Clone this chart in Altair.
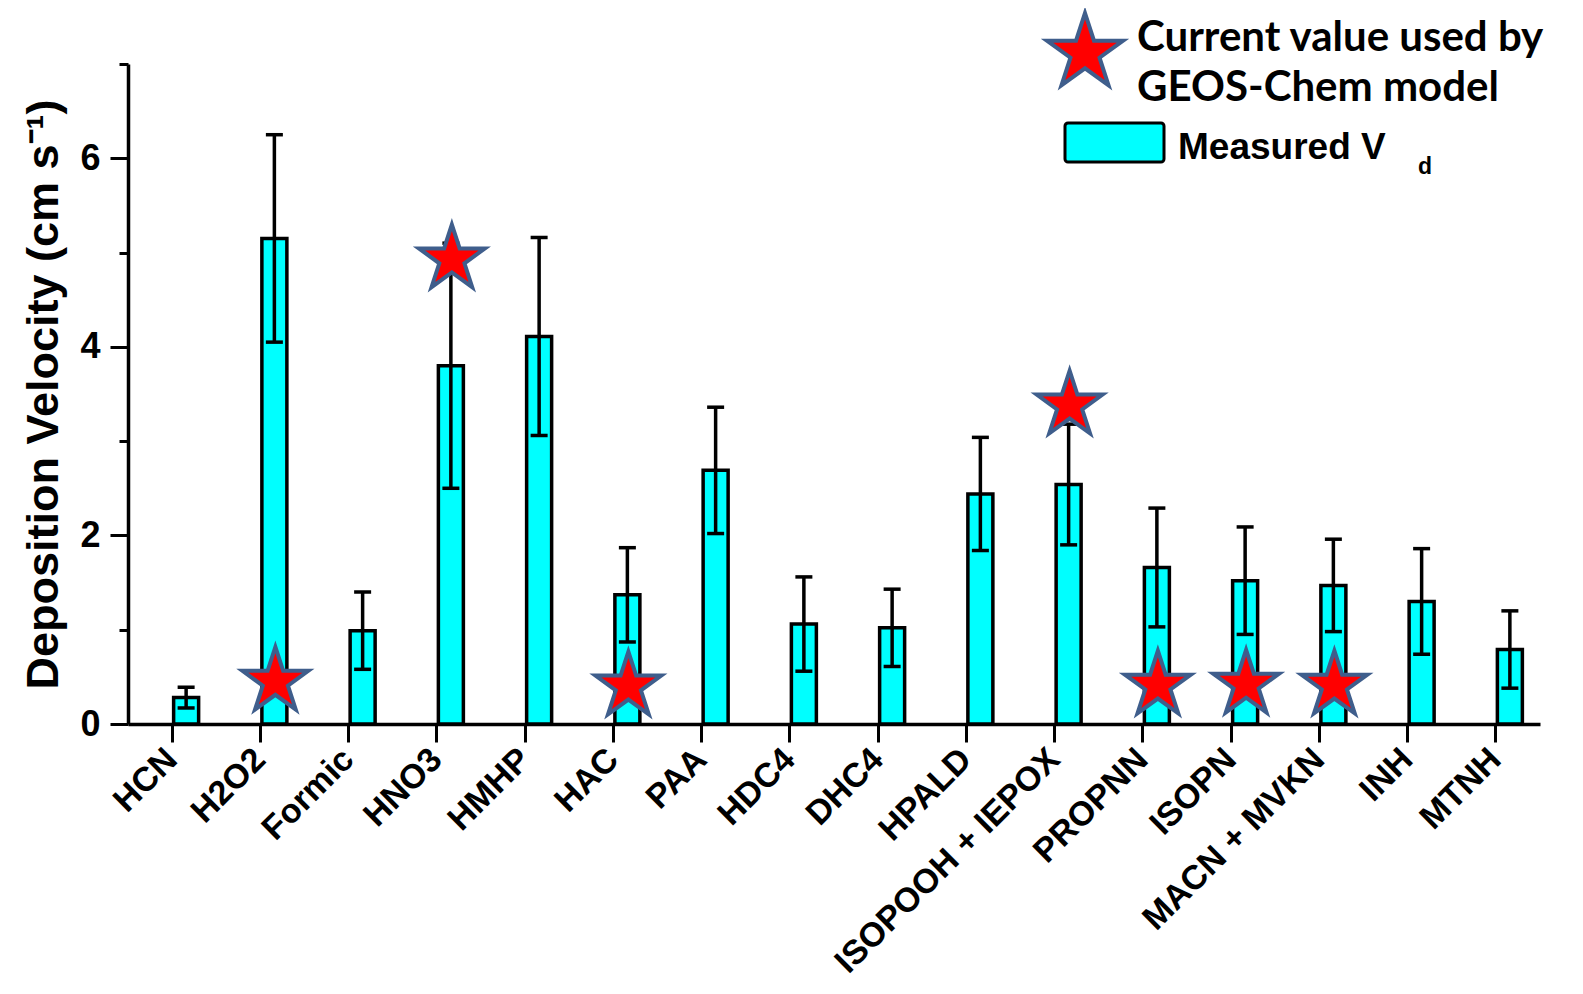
import altair as alt
import pandas as pd

# ---- data ----
categories = ["HCN", "H2O2", "Formic", "HNO3", "HMHP", "HAC", "PAA", "HDC4", "DHC4",
              "HPALD", "ISOPOOH + IEPOX", "PROPNN", "ISOPN", "MACN + MVKN", "INH", "MTNH"]
measured_vd = [0.28, 5.15, 0.99, 3.80, 4.11, 1.37, 2.69, 1.06, 1.02,
               2.44, 2.54, 1.66, 1.52, 1.47, 1.30, 0.79]
measured_err = [0.11, 1.10, 0.41, 1.30, 1.05, 0.50, 0.67, 0.50, 0.41,
                0.60, 0.64, 0.63, 0.57, 0.49, 0.56, 0.41]
model_cats = ["H2O2", "HNO3", "HAC", "ISOPOOH + IEPOX", "PROPNN", "ISOPN", "MACN + MVKN"]
model_vd = [0.45, 4.93, 0.40, 3.38, 0.41, 0.42, 0.41]

y_ticks = [0, 1, 2, 3, 4, 5, 6, 7]
y_title = "Deposition Velocity (cm s\u207b\u00b9)"
legend_star_lines = ["Current value used by", "GEOS-Chem model"]
legend_bar_text = "Measured V"
legend_bar_sub = "d"

STAR = ("M0,-1L0.2245,-0.309L0.9511,-0.309L0.3633,0.118L0.5878,0.809L0,0.382"
        "L-0.5878,0.809L-0.3633,0.118L-0.9511,-0.309L-0.2245,-0.309Z")

CYAN = "#00FFFF"
RED = "#FF0000"
STAR_EDGE = "#3F5E8C"
FONT = "Liberation Sans"

df = pd.DataFrame({"cat": categories, "vd": measured_vd, "err": measured_err})
df["lo"] = df["vd"] - df["err"]
df["hi"] = df["vd"] + df["err"]
stars = pd.DataFrame({"cat": model_cats, "vd": model_vd})
one = pd.DataFrame({"k": [0]})

xscale = alt.Scale(domain=categories, paddingInner=0, paddingOuter=0)
yscale = alt.Scale(domain=[0, 7], nice=False, zero=True)

xaxis = alt.Axis(
    title=None, labelAngle=-45, labelAlign="right", labelBaseline="middle",
    labelFont=FONT, labelFontWeight="bold", labelFontSize=34, labelColor="black",
    labelPadding=12, labelLimit=1000, tickSize=18, tickWidth=3, tickColor="black",
    domainColor="black", domainWidth=3.5, labelOverlap=False,
)
yaxis = alt.Axis(
    values=y_ticks, grid=False, format="d",
    labelExpr="datum.value % 2 === 0 ? datum.label : ''",
    tickSize={"condition": {"test": "datum.value % 2 === 0", "value": 18}, "value": 9},
    tickWidth=3, tickColor="black", domainColor="black", domainWidth=3.5,
    labelFont=FONT, labelFontWeight="bold", labelFontSize=36, labelColor="black",
    labelPadding=10,
    title=y_title, titleFont=FONT, titleFontWeight="bold", titleFontSize=45,
    titleColor="black", titleX=-62,
)

X = alt.X("cat:N", sort=categories, scale=xscale, axis=xaxis)
Xn = alt.X("cat:N", sort=categories, scale=xscale)

base = alt.Chart(df)

bars = base.mark_bar(width=25, fill=CYAN, stroke="black", strokeWidth=3.5, xOffset=14).encode(
    x=X, y=alt.Y("vd:Q", scale=yscale, axis=yaxis)
)
err_line = base.mark_rule(color="black", strokeWidth=3.5, xOffset=14).encode(
    x=Xn, y=alt.Y("lo:Q", scale=yscale), y2="hi:Q"
)
cap_hi = base.mark_tick(color="black", size=17, thickness=3.5, xOffset=14, opacity=1).encode(
    x=Xn, y=alt.Y("hi:Q", scale=yscale)
)
cap_lo = base.mark_tick(color="black", size=17, thickness=3.5, xOffset=14, opacity=1).encode(
    x=Xn, y=alt.Y("lo:Q", scale=yscale)
)
star_pts = alt.Chart(stars).mark_point(
    shape=STAR, size=4800, filled=True, fill=RED, stroke=STAR_EDGE, strokeWidth=4,
    opacity=1, strokeJoin="miter", xOffset=15,
).encode(x=Xn, y=alt.Y("vd:Q", scale=yscale))

# ---- legend (drawn manually, top right) ----
leg_star = alt.Chart(one).mark_point(
    shape=STAR, size=6400, filled=True, fill=RED, stroke=STAR_EDGE, strokeWidth=4,
    opacity=1, strokeJoin="miter",
).encode(x=alt.value(957), y=alt.value(-11))
leg_t1 = alt.Chart(one).mark_text(
    align="left", baseline="alphabetic", font="Lato", fontWeight="bold", fontSize=42, color="black"
).encode(x=alt.value(1009), y=alt.value(-13), text=alt.value(legend_star_lines[0]))
leg_t2 = alt.Chart(one).mark_text(
    align="left", baseline="alphabetic", font="Lato", fontWeight="bold", fontSize=42, color="black"
).encode(x=alt.value(1009), y=alt.value(37), text=alt.value(legend_star_lines[1]))
leg_rect = alt.Chart(one).mark_rect(
    fill=CYAN, stroke="black", strokeWidth=3, cornerRadius=3
).encode(x=alt.value(937), x2=alt.value(1036), y=alt.value(59), y2=alt.value(98))
leg_t3 = alt.Chart(one).mark_text(
    align="left", baseline="alphabetic", font=FONT, fontWeight="bold", fontSize=37, color="black"
).encode(x=alt.value(1050), y=alt.value(95), text=alt.value(legend_bar_text))
leg_t4 = alt.Chart(one).mark_text(
    align="left", baseline="alphabetic", font=FONT, fontWeight="bold", fontSize=23, color="black"
).encode(x=alt.value(1290), y=alt.value(110), text=alt.value(legend_bar_sub))

chart = alt.layer(
    bars, err_line, cap_hi, cap_lo, star_pts,
    leg_star, leg_t1, leg_t2, leg_rect, leg_t3, leg_t4,
).properties(
    width=1412, height=660,
    padding={"left": 120, "top": 56, "right": 27, "bottom": 260},
    autosize=alt.AutoSizeParams(type="none"),
    background="white",
).configure_view(stroke=None)

chart.save("out.html", embed_options={"renderer": "svg", "actions": False})
